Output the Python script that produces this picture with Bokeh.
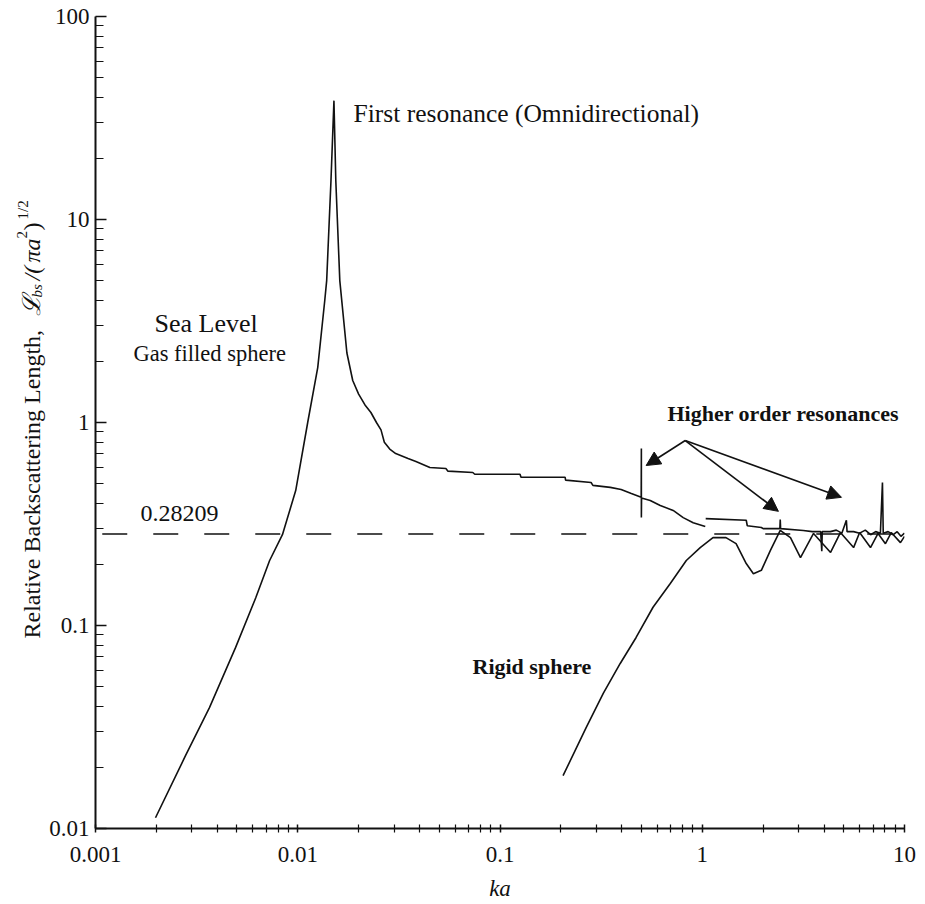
import math
import numpy as np
from bokeh.plotting import figure
from bokeh.layouts import row
from bokeh.models import (FixedTicker, CustomJSTickFormatter, Label, Arrow, NormalHead,
                          ColumnDataSource, Range1d)
from bokeh.embed import file_html
from bokeh.resources import INLINE

# ---------------- data ----------------
x_tick_vals = [0.001, 0.01, 0.1, 1, 10]
x_tick_labels = ["0.001", "0.01", "0.1", "1", "10"]
y_tick_vals = [0.01, 0.1, 1, 10, 100]
y_tick_labels = ["0.01", "0.1", "1", "10", "100"]

gas_x = [0.00198, 0.00279, 0.00366, 0.00493, 0.0062, 0.00726, 0.0084, 0.00977, 0.0112, 0.01256,
         0.0136, 0.0139, 0.0146, 0.0151, 0.01542, 0.01614, 0.0175, 0.0187, 0.020, 0.0215,
         0.023, 0.0245, 0.0258, 0.0268, 0.0285, 0.0305, 0.0351, 0.0384, 0.045, 0.054,
         0.0553, 0.0734, 0.075, 0.1256, 0.127, 0.210, 0.211, 0.282, 0.288, 0.351,
         0.397, 0.446, 0.499, 0.500, 0.500, 0.501, 0.553, 0.620, 0.718, 0.805,
         0.902, 1.035, float("nan"), 1.04, 1.65, 1.67, 1.96, 2.0, 2.42, 2.43,
         2.44, 3.16, 3.5, 3.85, 3.9, 3.92, 4.3, 4.6, 4.9, 5.16,
         5.2, 5.6, 6.0, 6.4, 6.8, 7.2, 7.6, 7.78, 7.85, 8.3,
         8.8, 9.2, 9.6, 10.0]
gas_y = [0.0113, 0.0229, 0.0394, 0.078, 0.137, 0.209, 0.28, 0.462, 1.0, 1.87,
         3.99, 5.0, 15.6, 38.5, 15.6, 5.0, 2.2, 1.61, 1.38, 1.22,
         1.12, 1.0, 0.92, 0.80, 0.74, 0.703, 0.665, 0.643, 0.600, 0.593,
         0.576, 0.567, 0.556, 0.556, 0.537, 0.537, 0.520, 0.506, 0.490, 0.479,
         0.468, 0.447, 0.428, 0.745, 0.340, 0.425, 0.413, 0.390, 0.369, 0.340,
         0.321, 0.307, float("nan"), 0.336, 0.33, 0.31, 0.304, 0.30, 0.30, 0.333,
         0.30, 0.294, 0.29, 0.29, 0.232, 0.29, 0.29, 0.295, 0.285, 0.33,
         0.29, 0.29, 0.285, 0.295, 0.28, 0.29, 0.285, 0.506, 0.285, 0.29,
         0.28, 0.29, 0.275, 0.285]

rigid_x = [0.205, 0.267, 0.324, 0.393, 0.471, 0.571, 0.695, 0.834, 0.977, 1.13,
           1.31, 1.47, 1.65, 1.79, 1.96, 2.17, 2.43, 2.73, 3.06, 3.55,
           4.31, 4.82, 5.60, 6.0, 6.79, 7.4, 8.05, 8.6, 9.55, 10.0]
rigid_y = [0.0182, 0.0315, 0.0463, 0.065, 0.0873, 0.123, 0.161, 0.209, 0.242, 0.271,
           0.271, 0.253, 0.202, 0.180, 0.187, 0.234, 0.294, 0.271, 0.216, 0.284,
           0.229, 0.287, 0.242, 0.287, 0.242, 0.284, 0.253, 0.287, 0.256, 0.275]

ref_value = 0.28209
ref_x = [0.00108, 10.0]

# arrows: common origin and three tips (data units)
arrow_origin = (0.824, 0.815)
arrow_tips_x = [0.528, 2.38, 4.88]
arrow_tips_y = [0.614, 0.365, 0.428]

# ---------------- layout helpers ----------------
FL, FR, FT, FB = 93, 902, 16, 828  # frame edges in page pixels
TW = 46                             # width of the side strip holding the y title
STRIP_H = 880


def px2x(px):
    return 10 ** (-3 + 4 * (px - FL) / (FR - FL))


def py2y(py):
    return 10 ** (-2 + 4 * (FB - py) / (FB - FT))


SERIF = "Liberation Serif"
INK = "#111111"

p = figure(x_axis_type="log", y_axis_type="log",
           x_range=(0.001, 10), y_range=(0.01, 100),
           frame_width=FR - FL, frame_height=FB - FT,
           min_border_left=FL - TW, min_border_top=FT,
           min_border_right=15, min_border_bottom=60,
           output_backend="svg", toolbar_location=None)
p.outline_line_color = None
p.grid.visible = False
p.background_fill_color = "white"
p.border_fill_color = "white"

x_minor = [d * k for d in x_tick_vals[:-1] for k in range(2, 10)]
y_minor = [d * k for d in y_tick_vals[:-1] for k in range(2, 10)]
p.xaxis.ticker = FixedTicker(ticks=x_tick_vals, minor_ticks=x_minor)
p.yaxis.ticker = FixedTicker(ticks=y_tick_vals, minor_ticks=y_minor)

fmt_code = """
for (let i = 0; i < vals.length; i++) {
  if (Math.abs(Math.log10(vals[i]) - Math.log10(tick)) < 1e-6) return labs[i];
}
return '';
"""
p.xaxis.formatter = CustomJSTickFormatter(args=dict(vals=x_tick_vals, labs=x_tick_labels), code=fmt_code)
p.yaxis.formatter = CustomJSTickFormatter(args=dict(vals=y_tick_vals, labs=y_tick_labels), code=fmt_code)

for ax in (p.xaxis[0], p.yaxis[0]):
    ax.axis_line_width = 2
    ax.axis_line_color = INK
    ax.major_tick_line_color = INK
    ax.minor_tick_line_color = INK
    ax.major_tick_line_width = 1.5
    ax.minor_tick_line_width = 1.2
    ax.major_label_text_font = SERIF
    ax.major_label_text_font_size = "23px"
    ax.major_label_text_color = INK

p.yaxis.major_tick_in = 11
p.yaxis.major_tick_out = 0
p.yaxis.minor_tick_in = 8
p.yaxis.minor_tick_out = 0
p.yaxis.major_label_standoff = 6
p.xaxis.major_tick_in = 4
p.xaxis.major_tick_out = 4
p.xaxis.minor_tick_in = 4
p.xaxis.minor_tick_out = 4
p.xaxis.major_label_standoff = 14
p.xaxis.axis_label = "ka"
p.xaxis.axis_label_text_font = SERIF
p.xaxis.axis_label_text_font_style = "italic"
p.xaxis.axis_label_text_font_size = "23px"
p.xaxis.axis_label_text_color = INK
p.xaxis.axis_label_standoff = 11

# ---------------- curves ----------------
src_gas = ColumnDataSource(dict(x=np.array(gas_x), y=np.array(gas_y)))
p.line("x", "y", source=src_gas, line_color=INK, line_width=1.6)
p.line(rigid_x, rigid_y, line_color=INK, line_width=1.6)
p.line(ref_x, [ref_value, ref_value], line_color=INK, line_width=1.6, line_dash="25 26")

for tx, ty in zip(arrow_tips_x, arrow_tips_y):
    p.add_layout(Arrow(x_start=arrow_origin[0], y_start=arrow_origin[1], x_end=tx, y_end=ty,
                       line_color=INK, line_width=1.6,
                       end=NormalHead(size=14, fill_color=INK, line_color=INK)))

# ---------------- texts inside the plot ----------------


def add_text(px, py, text, size, style="normal", align="left"):
    p.add_layout(Label(x=px2x(px), y=py2y(py), text=text, text_font=SERIF,
                       text_font_size=size, text_font_style=style, text_color=INK,
                       text_align=align, text_baseline="middle"))


add_text(351, 113, "First resonance (Omnidirectional)", "25.5px")
add_text(152, 323, "Sea Level", "26px")
add_text(131, 353, "Gas filled sphere", "22.5px")
add_text(138, 513, "0.28209", "24px")
add_text(665, 413, "Higher order resonances", "22px", style="bold")
add_text(470, 666, "Rigid sphere", "22px", style="bold")

# ---------------- side strip with the rotated y title ----------------
tf = figure(frame_width=TW, frame_height=STRIP_H,
            x_range=Range1d(0, TW), y_range=Range1d(STRIP_H, 0),
            min_border=0, x_axis_location=None, y_axis_location=None,
            output_backend="svg", toolbar_location=None)
tf.outline_line_color = None
tf.grid.visible = False
tf.border_fill_color = "white"
tf.background_fill_color = "white"

A = math.pi / 2


def add_title(px, py, text, size, style="normal"):
    tf.add_layout(Label(x=px, y=py, text=text, text_font=SERIF, text_font_size=size,
                        text_font_style=style, text_color=INK, text_align="left",
                        text_baseline="middle", angle=A))


add_title(31, 622, "Relative Backscattering Length,", "24px")
add_title(31, 299, "\u2112", "25px", style="italic")
add_title(36, 281, "bs", "15px", style="italic")
add_title(31, 264, "/(", "24px", style="italic")
add_title(31, 246, "\u03c0a", "24px", style="italic")
add_title(21, 222, "2", "15px")
add_title(31, 214, ")", "24px")
add_title(22, 203, "1/2", "15px")

layout = row(tf, p)
open("out.html", "w").write(file_html(layout, INLINE))
